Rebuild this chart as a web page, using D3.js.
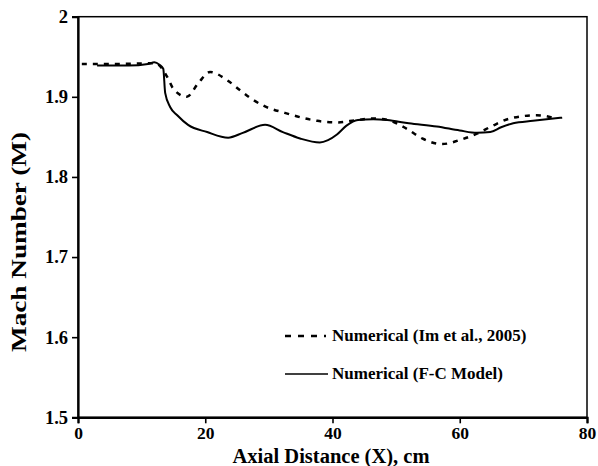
<!DOCTYPE html>
<html>
<head>
<meta charset="utf-8">
<script src="https://cdn.jsdelivr.net/npm/d3@7"></script>
<style>
  html, body { margin: 0; padding: 0; background: #fff; }
  svg text { font-family: "Liberation Serif", "Times New Roman", serif; font-weight: bold; fill: #000; }
</style>
</head>
<body>
<svg id="chart" width="598" height="466"></svg>
<script>
// ---- data ----
const xTicks = [0, 20, 40, 60, 80];
const yTicks = [1.5, 1.6, 1.7, 1.8, 1.9, 2.0];
const yTickLabels = ["1.5", "1.6", "1.7", "1.8", "1.9", "2"];

// Numerical (F-C Model) - solid
const fcX = [3, 8, 11, 12, 12.8, 13.4, 13.7, 14.5, 15.6, 17.3, 20.3, 23.6, 25.9, 29.4, 32.2, 34.9, 38, 39.3, 40.7, 42.2, 44, 46.4, 48.6, 52, 56.4, 60, 62.7, 64.8, 66.5, 68.4, 71.5, 76.1];
const fcM = [1.939, 1.939, 1.941, 1.943, 1.940, 1.935, 1.905, 1.887, 1.877, 1.865, 1.856, 1.849, 1.855, 1.865, 1.856, 1.848, 1.843, 1.846, 1.853, 1.864, 1.871, 1.872, 1.871, 1.867, 1.863, 1.858, 1.855, 1.856, 1.862, 1.867, 1.870, 1.874];

// Numerical (Im et al., 2005) - dashed
const imX = [0.6, 6, 12.1, 14.15, 14.9, 17.1, 18.9, 20.75, 23.4, 25.5, 27.35, 29.4, 32.5, 35.7, 37.6, 40.7, 43.85, 46.4, 48.7, 51.7, 54.1, 57.2, 60.35, 62.7, 65.2, 67.9, 72.1, 74.65];
const imM = [1.941, 1.941, 1.942, 1.923, 1.911, 1.900, 1.917, 1.931, 1.921, 1.908, 1.897, 1.888, 1.880, 1.873, 1.870, 1.868, 1.871, 1.873, 1.871, 1.860, 1.848, 1.841, 1.847, 1.854, 1.864, 1.873, 1.877, 1.874];

const legendLabels = ["Numerical (Im et al., 2005)", "Numerical (F-C Model)"];
const xTitle = "Axial Distance (X), cm";
const yTitle = "Mach Number (M)";

// ---- layout ----
const svg = d3.select("#chart");
const L = 78, R = 587, T = 16.7, B = 417.3;
const x = d3.scaleLinear().domain([0, 80]).range([L, R]);
const y = d3.scaleLinear().domain([1.5, 2.0]).range([B, T]);

// frame (top/right)
svg.append("rect").attr("x", L).attr("y", T).attr("width", R - L).attr("height", B - T)
  .attr("fill", "none").attr("stroke", "#000").attr("stroke-width", 1.5);

// axes
const xAxis = svg.append("g").attr("transform", `translate(0,${B})`)
  .call(d3.axisBottom(x).tickValues(xTicks).tickSize(6).tickPadding(3).tickFormat(d3.format("d")));
const yAxis = svg.append("g").attr("transform", `translate(${L},0)`)
  .call(d3.axisLeft(y).tickValues(yTicks).tickSize(6).tickPadding(4).tickFormat((d, i) => yTickLabels[i]));
[xAxis, yAxis].forEach(g => {
  g.select(".domain").attr("stroke", "#000").attr("stroke-width", 2.2);
  g.selectAll(".tick line").attr("stroke", "#000").attr("stroke-width", 1.6);
  g.selectAll(".tick text").style("font-size", "17.5px").style("font-family", "'Liberation Serif', serif").style("font-weight", "bold");
});
yAxis.selectAll(".tick text").style("font-size", "18.5px");

// lines
const fcData = fcX.map((v, i) => [v, fcM[i]]);
const imData = imX.map((v, i) => [v, imM[i]]);
const line = d3.line().x(d => x(d[0])).y(d => y(d[1])).curve(d3.curveMonotoneX);

svg.append("path").datum(imData).attr("d", line)
  .attr("fill", "none").attr("stroke", "#000").attr("stroke-width", 2.5)
  .attr("stroke-dasharray", "5,6");
svg.append("path").datum(fcData).attr("d", line)
  .attr("fill", "none").attr("stroke", "#000").attr("stroke-width", 2);

// legend
const lg = svg.append("g");
lg.append("line").attr("x1", 285).attr("x2", 326).attr("y1", 336).attr("y2", 336)
  .attr("stroke", "#000").attr("stroke-width", 2.5).attr("stroke-dasharray", "6,7");
lg.append("line").attr("x1", 285).attr("x2", 328).attr("y1", 374).attr("y2", 374)
  .attr("stroke", "#000").attr("stroke-width", 1.3);
lg.append("text").attr("x", 332).attr("y", 341).style("font-size", "17px").text(legendLabels[0]);
lg.append("text").attr("x", 332).attr("y", 379).style("font-size", "17px").text(legendLabels[1]);

// titles
svg.append("text").attr("x", 331).attr("y", 463).attr("text-anchor", "middle")
  .style("font-size", "20.5px").text(xTitle);
svg.append("text").attr("transform", "translate(26,242) rotate(-90)").attr("text-anchor", "middle")
  .attr("textLength", 220).attr("lengthAdjust", "spacingAndGlyphs")
  .style("font-size", "21px").text(yTitle);
</script>
</body>
</html>
